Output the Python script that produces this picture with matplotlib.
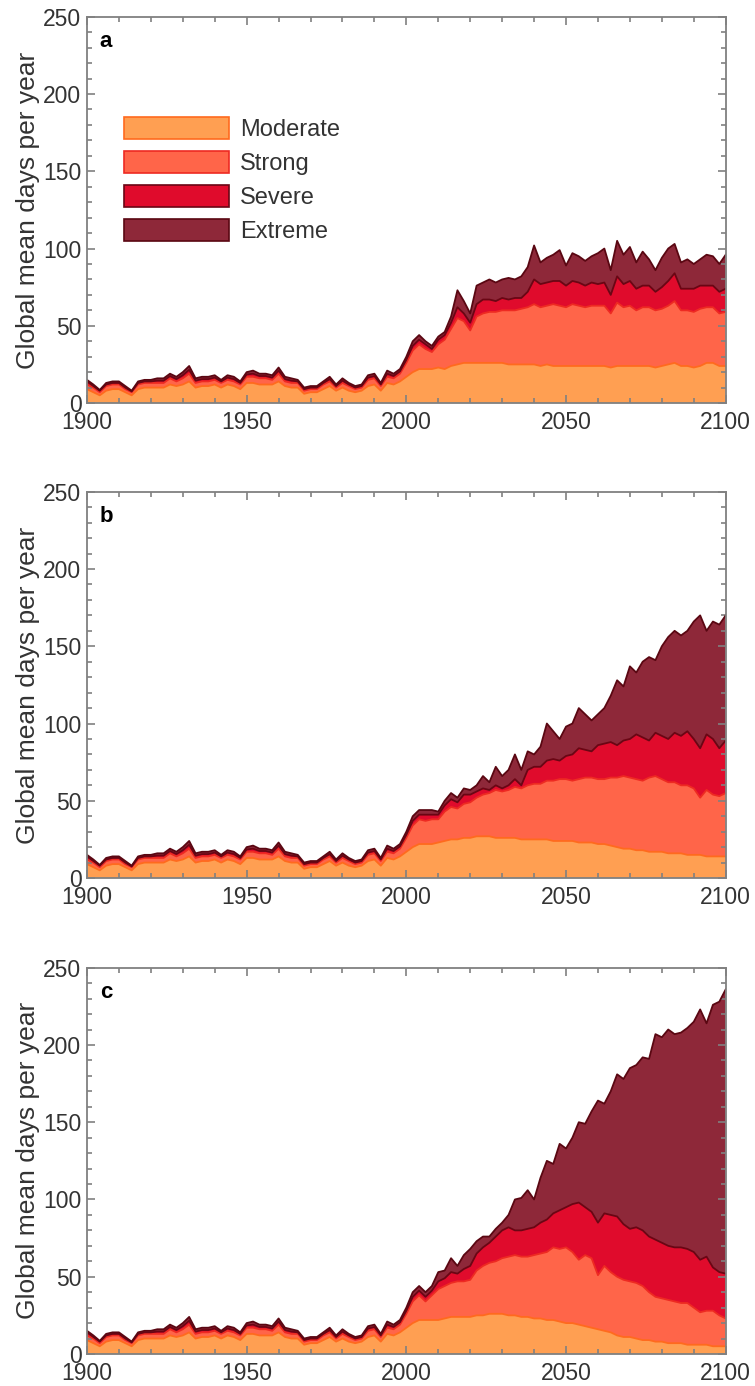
import numpy as np
import matplotlib.pyplot as plt
from matplotlib.ticker import MultipleLocator
from matplotlib.patches import Patch

plt.rcParams['font.family'] = ['Liberation Sans', 'DejaVu Sans']

# years, every second year
years = np.arange(1900, 2101, 2)

categories = ["Moderate", "Strong", "Severe", "Extreme"]
panel_labels = ["a", "b", "c"]

# 1900-2004, shared by all panels (days per year in each category)
hist_moderate = [9, 7, 5, 8, 9, 9, 7, 5, 9, 10, 10, 10, 10, 12, 11, 12, 14, 10, 11, 11,
                 12, 10, 12, 11, 9, 13, 13, 12, 12, 12, 14, 11, 10, 10, 6, 7, 7, 9, 11, 8,
                 10, 8, 7, 8, 11, 12, 8, 13, 12, 14, 17, 20, 22]
hist_strong = [3, 3, 2, 3, 3, 3, 2, 2, 3, 3, 3, 3, 3, 4, 3, 4, 5, 3, 3, 3,
               3, 3, 3, 3, 3, 4, 4, 4, 4, 3, 5, 3, 3, 3, 2, 2, 2, 3, 3, 2,
               3, 3, 2, 2, 4, 4, 3, 4, 4, 5, 9, 14, 16]
hist_severe = [2, 1, 1, 1, 1, 1, 1, 0.5, 1, 1, 1, 1.5, 1.5, 1.5, 1.5, 2, 2.5, 1.5, 1.5, 1.5,
               1.5, 1, 1.5, 1.5, 1, 1.5, 2, 1.5, 1.5, 1.5, 2, 1.5, 1.5, 1, 1, 1, 1, 1, 1.5, 1,
               1.5, 1, 1, 1, 1.5, 1.5, 1, 2, 1.5, 1.5, 2, 3, 3]
hist_extreme = [1, 1, 0.5, 1, 1, 1, 1, 0.5, 1, 1, 1, 1.5, 1.5, 1.5, 1.5, 2, 2.5, 1.5, 1.5, 1.5,
                1.5, 1, 1.5, 1.5, 1, 1.5, 2, 1.5, 1.5, 1.5, 2, 1.5, 1.5, 1, 1, 1, 1, 1, 1.5, 1,
                1.5, 1, 1, 1, 1.5, 1.5, 1, 2, 1.5, 1.5, 2, 3, 3]

# 2006-2100, panel a
a_moderate = [22, 22, 23, 22, 24, 25, 26, 26, 26, 26, 26, 26, 26, 25, 25, 25, 25, 25, 24, 25,
              24, 24, 24, 24, 24, 24, 24, 24, 24, 23, 24, 24, 24, 24, 24, 24, 23, 24, 25, 26,
              24, 24, 23, 24, 26, 26, 24, 24]
a_strong = [13, 11, 15, 19, 24, 30, 27, 21, 30, 32, 33, 33, 34, 35, 35, 36, 37, 39, 38, 38,
            40, 39, 38, 40, 39, 38, 39, 39, 39, 35, 41, 38, 39, 36, 38, 38, 37, 37, 38, 40,
            36, 36, 36, 37, 36, 36, 34, 35]
a_severe = [3, 2, 3, 3, 4, 7, 5, 5, 8, 9, 8, 7, 8, 7, 8, 7, 10, 16, 15, 15,
            15, 16, 14, 15, 15, 14, 15, 14, 15, 12, 17, 15, 16, 14, 14, 14, 12, 14, 16, 18,
            14, 14, 15, 15, 14, 14, 14, 15]
a_extreme = [2, 2, 2, 2, 4, 11, 8, 6, 12, 11, 13, 12, 12, 14, 12, 14, 16, 22, 14, 16,
             17, 20, 13, 18, 17, 16, 17, 20, 22, 16, 23, 19, 22, 17, 22, 17, 14, 19, 21, 19,
             17, 19, 16, 17, 20, 19, 18, 22]

# 2006-2100, panel b
b_moderate = [22, 22, 23, 24, 25, 25, 26, 26, 27, 27, 27, 26, 26, 26, 26, 25, 25, 25, 25, 25,
              24, 24, 24, 24, 23, 23, 23, 22, 22, 21, 20, 19, 19, 18, 18, 17, 17, 17, 16, 16,
              16, 15, 15, 15, 14, 14, 14, 14]
b_strong = [15, 16, 15, 19, 21, 20, 22, 23, 25, 27, 28, 31, 30, 31, 33, 33, 35, 36, 36, 38,
            39, 40, 40, 39, 41, 42, 42, 42, 42, 44, 45, 47, 46, 46, 45, 48, 49, 47, 46, 46,
            44, 45, 43, 37, 43, 40, 39, 41]
b_severe = [4, 3, 3, 4, 5, 4, 6, 5, 4, 4, 2, 3, 2, 3, 5, 2, 10, 11, 11, 13,
            14, 12, 15, 17, 20, 18, 17, 22, 23, 23, 21, 23, 25, 29, 28, 24, 28, 28, 28, 32,
            32, 35, 32, 32, 36, 36, 31, 34]
b_extreme = [3, 3, 2, 3, 4, 3, 4, 3, 4, 8, 5, 12, 8, 10, 16, 10, 12, 8, 13, 24,
             18, 14, 19, 20, 26, 23, 20, 20, 23, 30, 42, 35, 47, 40, 49, 54, 47, 58, 66, 66,
             65, 65, 76, 86, 67, 76, 80, 81]

# 2006-2100, panel c
c_moderate = [22, 22, 22, 23, 24, 24, 24, 24, 25, 25, 26, 26, 26, 25, 25, 24, 24, 23, 23, 22,
              22, 21, 20, 20, 19, 18, 17, 16, 15, 14, 12, 11, 11, 10, 9, 9, 8, 8, 7, 7,
              7, 6, 6, 6, 6, 5, 5, 5]
c_strong = [12, 16, 20, 21, 22, 23, 23, 24, 29, 32, 33, 34, 36, 38, 39, 39, 39, 41, 42, 44,
            47, 47, 49, 46, 42, 46, 45, 35, 42, 39, 38, 37, 36, 36, 35, 31, 29, 28, 28, 27,
            26, 27, 24, 21, 22, 23, 20, 18]
c_severe = [3, 3, 5, 5, 7, 5, 8, 9, 11, 12, 13, 16, 18, 19, 16, 17, 18, 18, 20, 21,
            22, 25, 26, 31, 37, 31, 30, 34, 34, 37, 39, 36, 34, 36, 36, 36, 37, 36, 35, 35,
            36, 35, 36, 34, 35, 28, 28, 29]
c_extreme = [3, 3, 6, 5, 9, 5, 9, 11, 8, 7, 4, 5, 5, 8, 20, 21, 25, 18, 29, 38,
             32, 43, 38, 43, 52, 54, 65, 79, 71, 80, 92, 94, 104, 105, 112, 115, 133, 133, 140, 138,
             139, 143, 149, 162, 151, 170, 175, 184]

fills = ["#FF9F52", "#FF6549", "#E00B2C", "#8E2839"]
edges = ["#FF6A1E", "#EE2A22", "#6A0614", "#5A0712"]

panels = [
    [a_moderate, a_strong, a_severe, a_extreme],
    [b_moderate, b_strong, b_severe, b_extreme],
    [c_moderate, c_strong, c_severe, c_extreme],
]
hist = [hist_moderate, hist_strong, hist_severe, hist_extreme]

fig = plt.figure(figsize=(7.55, 13.86), dpi=100)
bottoms = [0.7092, 0.3665, 0.0231]
tick_col = "#333333"
frame_col = "#808080"

for k, future in enumerate(panels):
    ax = fig.add_axes([0.1152, bottoms[k], 0.846, 0.2787])
    layers = [np.array(h + f, dtype=float) for h, f in zip(hist, future)]
    ax.stackplot(years, layers, colors=fills, linewidth=0)
    tops = np.cumsum(layers, axis=0)
    for i in range(4):
        ax.plot(years, tops[i], color=edges[i], lw=1.3)

    ax.set_xlim(1900, 2100)
    ax.set_ylim(0, 250)
    ax.xaxis.set_major_locator(MultipleLocator(50))
    ax.xaxis.set_minor_locator(MultipleLocator(10))
    ax.yaxis.set_major_locator(MultipleLocator(50))
    ax.yaxis.set_minor_locator(MultipleLocator(10))
    ax.tick_params(which='both', direction='in', top=True, right=True,
                   colors=frame_col, labelcolor=tick_col, labelsize=16.5, width=1.2)
    ax.tick_params(which='major', length=6, pad=4)
    ax.tick_params(axis='x', which='major', pad=6)
    ax.tick_params(which='minor', length=3.5)
    for s in ax.spines.values():
        s.set_color(frame_col)
        s.set_linewidth(1.3)
    ax.set_ylabel("Global mean days per year", fontsize=19, color=tick_col, labelpad=2)
    ax.text(0.02, 0.935, panel_labels[k], transform=ax.transAxes, fontsize=16,
            fontweight='bold', va='center', ha='left')

    if k == 0:
        handles = [Patch(facecolor=fills[i], edgecolor=edges[i], lw=1.2) for i in range(4)]
        ax.legend(handles, categories, loc='upper left', bbox_to_anchor=(0.058, 0.741),
                  frameon=False, borderpad=0, borderaxespad=0, fontsize=17,
                  handlelength=4.45, handleheight=1.06, labelspacing=0.42,
                  handletextpad=0.47, labelcolor=tick_col)

plt.savefig("out.png", dpi=100)
